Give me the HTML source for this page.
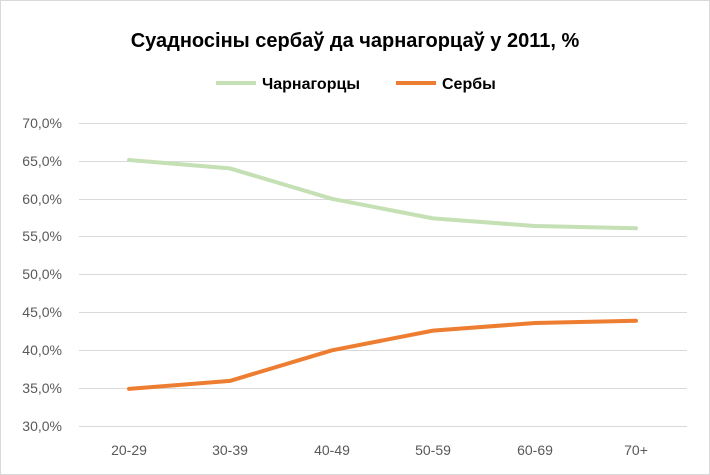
<!DOCTYPE html>
<html><head><meta charset="utf-8"><style>
html,body{margin:0;padding:0;background:#fff;}
svg{display:block;font-family:"Liberation Sans","DejaVu Sans",sans-serif;}
</style></head><body>
<svg width="710" height="475" viewBox="0 0 710 475" xmlns="http://www.w3.org/2000/svg">
<rect x="0.5" y="0.5" width="709" height="474" fill="#fff" stroke="#d9d9d9"/>
<text x="355" y="47" text-anchor="middle" font-size="20" font-weight="bold" fill="#000">Суадносіны сербаў да чарнагорцаў у 2011, %</text>
<line x1="216" y1="83" x2="256" y2="83" stroke="#c5e0b4" stroke-width="4"/>
<text x="262" y="89" font-size="16" font-weight="bold" fill="#000">Чарнагорцы</text>
<line x1="396" y1="83" x2="436" y2="83" stroke="#ed7d31" stroke-width="4"/>
<text x="442" y="89" font-size="16" font-weight="bold" fill="#000">Сербы</text>
<g stroke="#d9d9d9" stroke-width="1">
<line x1="79" x2="687" y1="123.5" y2="123.5"/>
<line x1="79" x2="687" y1="161.5" y2="161.5"/>
<line x1="79" x2="687" y1="199.5" y2="199.5"/>
<line x1="79" x2="687" y1="236.5" y2="236.5"/>
<line x1="79" x2="687" y1="274.5" y2="274.5"/>
<line x1="79" x2="687" y1="312.5" y2="312.5"/>
<line x1="79" x2="687" y1="350.5" y2="350.5"/>
<line x1="79" x2="687" y1="388.5" y2="388.5"/>
<line x1="79" x2="687" y1="426.5" y2="426.5"/>
</g>
<g font-size="14" fill="#595959" text-anchor="end">
<text x="62" y="128">70,0%</text>
<text x="62" y="166">65,0%</text>
<text x="62" y="204">60,0%</text>
<text x="62" y="241">55,0%</text>
<text x="62" y="279">50,0%</text>
<text x="62" y="317">45,0%</text>
<text x="62" y="355">40,0%</text>
<text x="62" y="393">35,0%</text>
<text x="62" y="431">30,0%</text>
</g>
<g font-size="14" fill="#595959" text-anchor="middle">
<text x="129" y="455">20-29</text>
<text x="230" y="455">30-39</text>
<text x="332" y="455">40-49</text>
<text x="433" y="455">50-59</text>
<text x="535" y="455">60-69</text>
<text x="636" y="455">70+</text>
</g>
<polyline fill="none" stroke="#c5e0b4" stroke-width="4" stroke-linejoin="round" stroke-linecap="round" points="129,160 230,168.4 332,198.8 433,218.4 535,226 636,228.3"/>
<polyline fill="none" stroke="#ed7d31" stroke-width="4" stroke-linejoin="round" stroke-linecap="round" points="129,388.9 230,380.9 332,350.3 433,330.6 535,323 636,320.7"/>
</svg>
</body></html>
